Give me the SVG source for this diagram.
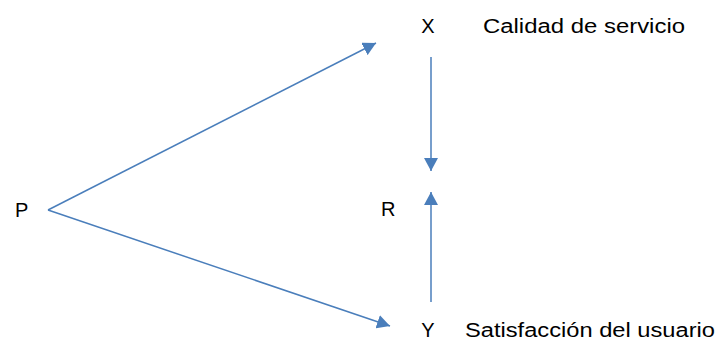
<svg xmlns="http://www.w3.org/2000/svg" width="720" height="342" viewBox="0 0 720 342">
<style>
text{font-family:"Liberation Sans",Arial,sans-serif;font-size:20px;fill:#000}
.c{stroke:#4a7ebb;stroke-width:1.5;fill:none}
</style>
<defs>
<marker id="ah" viewBox="0 0 13 14" refX="13" refY="7" markerWidth="13" markerHeight="14" markerUnits="userSpaceOnUse" orient="auto">
<path d="M0,0 L13,7 L0,14 Z" fill="#4a7ebb"/>
</marker>
</defs>
<rect width="720" height="342" fill="#fff"/>
<g id="connectors">
<line class="c" x1="48" y1="210" x2="376" y2="43" marker-end="url(#ah)"/>
<line class="c" x1="48" y1="210" x2="390" y2="326" marker-end="url(#ah)"/>
<line class="c" x1="431" y1="57" x2="431" y2="171" marker-end="url(#ah)"/>
<line class="c" x1="431" y1="302" x2="431" y2="192" marker-end="url(#ah)"/>
</g>
<g id="P"><text x="15" y="217">P</text></g>
<g id="X"><text x="428" y="33" text-anchor="middle">X</text><text x="483" y="33" textLength="202" lengthAdjust="spacingAndGlyphs">Calidad de servicio</text></g>
<g id="R"><text x="381" y="216">R</text></g>
<g id="Y"><text x="428" y="337" text-anchor="middle">Y</text><text x="465" y="337" textLength="250" lengthAdjust="spacingAndGlyphs">Satisfacción del usuario</text></g>
</svg>
